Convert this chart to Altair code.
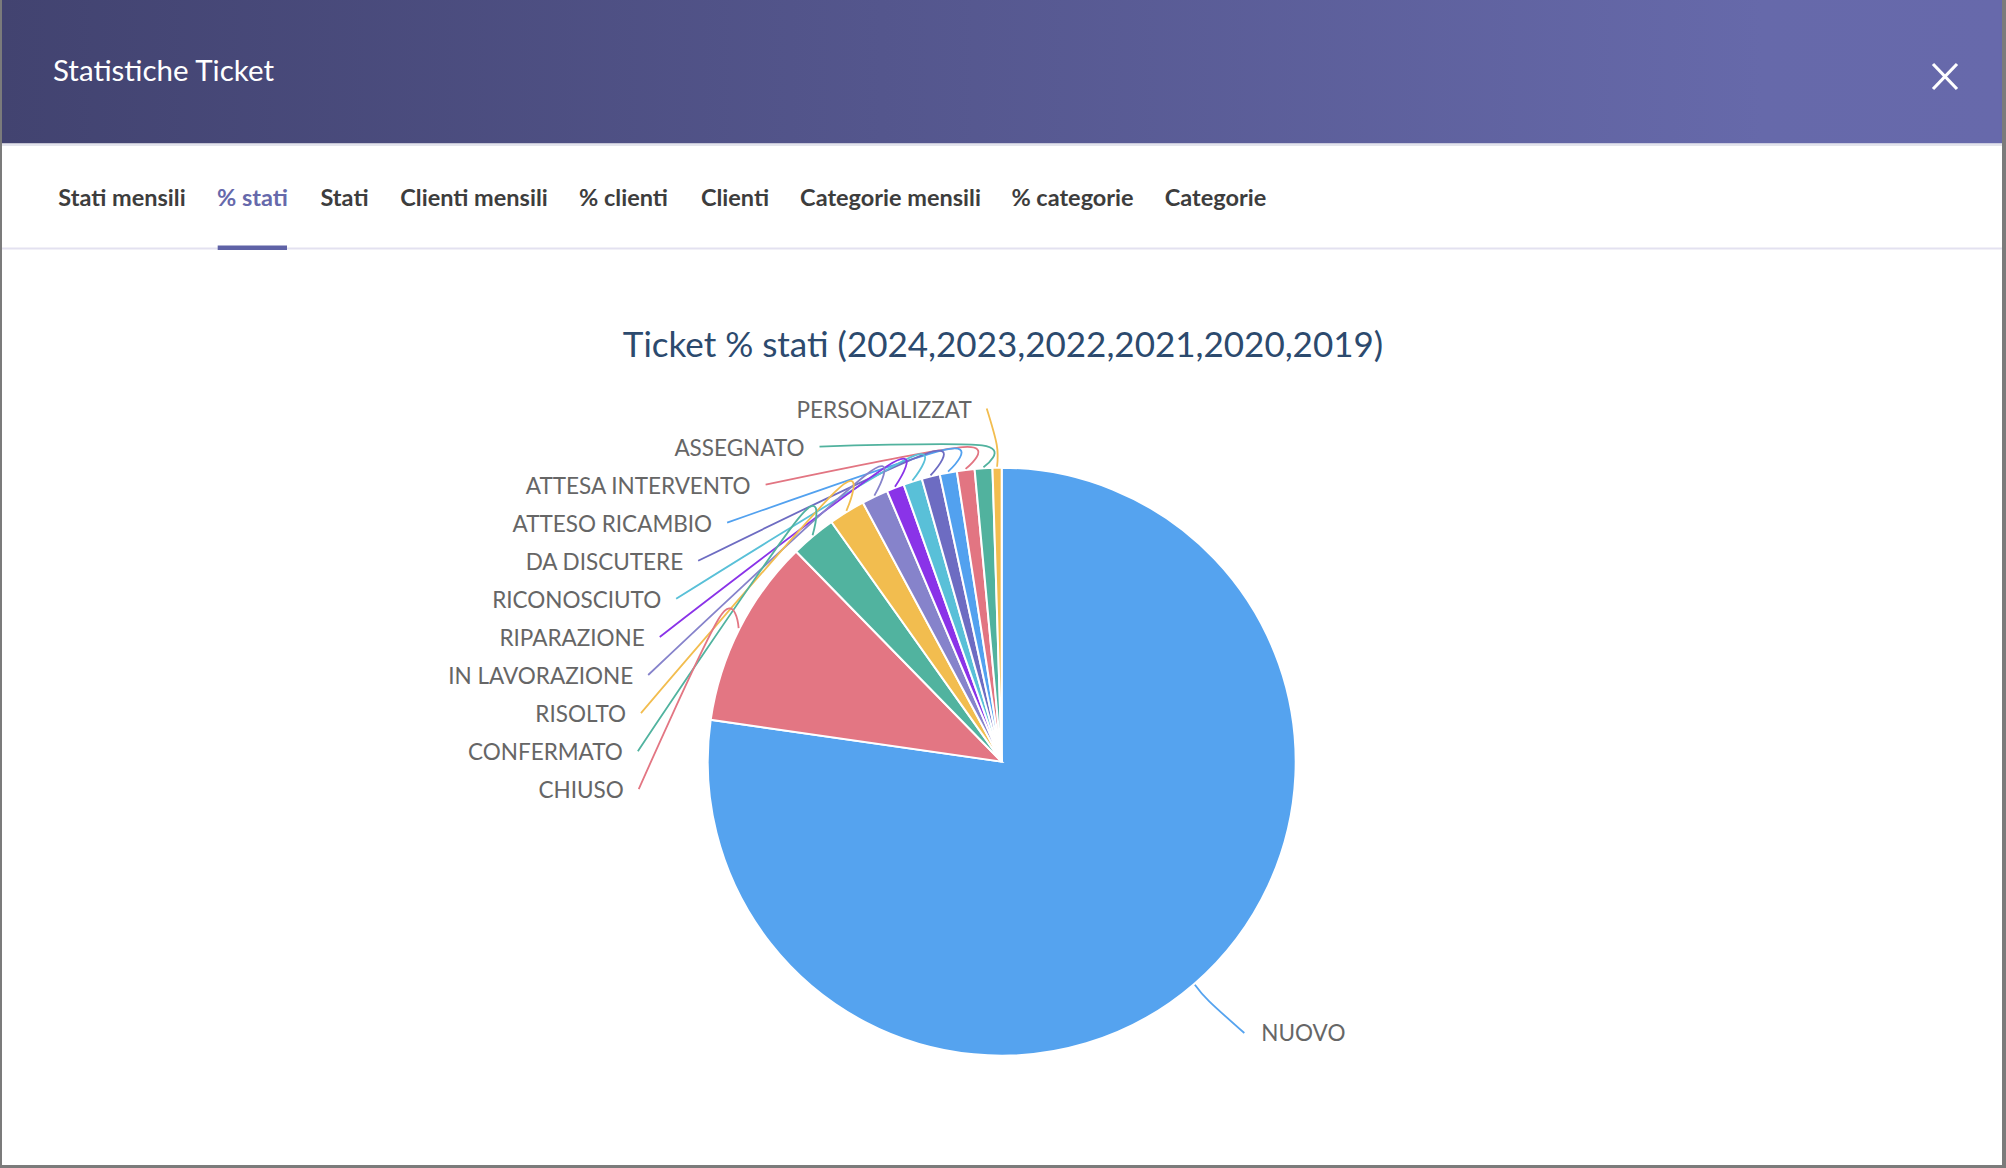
import math
import altair as alt
import pandas as pd

# ---------------- data ----------------
stati = ["NUOVO", "CHIUSO", "CONFERMATO", "RISOLTO", "IN LAVORAZIONE", "RIPARAZIONE",
         "RICONOSCIUTO", "DA DISCUTERE", "ATTESO RICAMBIO", "ATTESA INTERVENTO",
         "ASSEGNATO", "PERSONALIZZAT"]
percentuali = [77.3, 10.4, 2.5, 2.0, 1.45, 0.97, 1.03, 1.0, 0.94, 0.97, 0.97, 0.5]
colori = ["#55a3ef", "#e37683", "#51b39f", "#f2bd4f", "#8683cb", "#8a33e8",
          "#59c0d8", "#6d6cc2", "#52a1ef", "#e27582", "#51b29e", "#f2bd4f"]
schede = ["Stati mensili", "% stati", "Stati", "Clienti mensili", "% clienti",
          "Clienti", "Categorie mensili", "% categorie", "Categorie"]
scheda_attiva = "% stati"
titolo_modale = "Statistiche Ticket"
titolo_grafico = "Ticket % stati (2024,2023,2022,2021,2020,2019)"

# ---------------- layout ----------------
W, H = 2006, 1168
CX, CY, RAD = 1001.7, 761.7, 294
LEN1 = 23          # first leader segment
LABEL_R = 364      # radius of the label ring
STEP = 38.07       # vertical spacing of the stacked labels
TOP_Y = 408.5
GAP = 15
tab_centri = [122, 252.5, 344.5, 474, 623.5, 735, 890.5, 1072.5, 1215.5]

FONT = "Lato"

df = pd.DataFrame({"stato": stati, "valore": percentuali, "ordine": list(range(len(stati)))})

total = sum(percentuali)
mids = []
cum = 0.0
for v in percentuali:
    a0 = cum / total * 2 * math.pi
    cum += v
    a1 = cum / total * 2 * math.pi
    mids.append((a0 + a1) / 2)

def pt(a, r):
    return CX + r * math.sin(a), CY - r * math.cos(a)

left = [i for i, m in enumerate(mids) if m > math.pi]
left.sort(key=lambda i: -mids[i])
line_rows, label_rows = [], []
for k, i in enumerate(left):
    p0 = pt(mids[i], RAD + 1)
    p1 = pt(mids[i], RAD + LEN1)
    y = TOP_Y + k * STEP
    dy = y - CY
    if abs(dy) > 0.95 * LABEL_R:
        x = p1[0] - 10
    else:
        x = CX - math.sqrt(LABEL_R ** 2 - dy ** 2)
    for j, (px, py) in enumerate([p0, p1, (x, y)]):
        line_rows.append({"stato": stati[i], "k": j, "px": px, "py": py})
    label_rows.append({"stato": stati[i], "tx": x - GAP, "ty": y + 2, "lato": "sx"})
for i, m in enumerate(mids):
    if m <= math.pi:
        p0 = pt(m, RAD + 1)
        p1 = pt(m, RAD + LEN1)
        y = CY - (LABEL_R - 5) * math.cos(m)
        x = CX + math.sqrt(max(LABEL_R ** 2 - (y - CY) ** 2, 0))
        for j, (px, py) in enumerate([p0, p1, (x, y)]):
            line_rows.append({"stato": stati[i], "k": j, "px": px, "py": py})
        label_rows.append({"stato": stati[i], "tx": x + GAP + 2, "ty": y + 1, "lato": "dx"})

lines_df = pd.DataFrame(line_rows)
labels_df = pd.DataFrame(label_rows)
tabs_df = pd.DataFrame({"scheda": schede, "cx": tab_centri})
one = pd.DataFrame({"k": [0]})

xs = alt.Scale(domain=[0, W], range=[0, W], nice=False, zero=False)
ys = alt.Scale(domain=[0, H], range=[0, H], nice=False, zero=False)
cscale = alt.Scale(domain=stati, range=colori)

def rect(x1, x2, y1, y2, color):
    return alt.Chart(one).mark_rect(color=color).encode(
        x=alt.value(x1), x2=alt.value(x2), y=alt.value(y1), y2=alt.value(y2))

header = alt.Chart(one).mark_rect(
    color=alt.Gradient(gradient="linear",
                       stops=[alt.GradientStop(color="#424370", offset=0),
                              alt.GradientStop(color="#6669aa", offset=0.88),
                              alt.GradientStop(color="#6769ab", offset=1)],
                       x1=0, x2=1, y1=0, y2=0)
).encode(x=alt.value(2), x2=alt.value(2002), y=alt.value(0), y2=alt.value(143.5))

header_line = rect(2, 2002, 143.5, 146, "#e3e4ec")
border_l = rect(0, 2, 0, H, "#7b7b7b")
border_r = rect(2002, W, 0, H, "#7b7b7b")
border_b = rect(0, W, 1165, H, "#7b7b7b")

header_text = alt.Chart(one).mark_text(
    text=titolo_modale, font=FONT, fontSize=29.5, color="#ffffff", align="left", baseline="middle"
).encode(x=alt.value(53), y=alt.value(72))

close1 = alt.Chart(one).mark_rule(color="#ffffff", strokeWidth=3.2).encode(
    x=alt.value(1933), y=alt.value(64), x2=alt.value(1957), y2=alt.value(89))
close2 = alt.Chart(one).mark_rule(color="#ffffff", strokeWidth=3.2).encode(
    x=alt.value(1957), y=alt.value(64), x2=alt.value(1933), y2=alt.value(89))

tabs = alt.Chart(tabs_df).mark_text(
    font=FONT, fontSize=23.5, fontWeight="bold", baseline="middle", align="center"
).encode(
    x=alt.X("cx:Q", scale=xs, axis=None),
    y=alt.value(199),
    text="scheda:N",
    color=alt.condition(alt.datum.scheda == scheda_attiva, alt.value("#6669ab"), alt.value("#3d3d3d")),
)
tab_sep = rect(2, 2002, 247.5, 249.5, "#e3e1f0")
tab_active = rect(217.7, 287, 245.5, 250, "#5f62a6")

chart_title = alt.Chart(one).mark_text(
    text=titolo_grafico, font=FONT, fontSize=35, color="#2c4a6e", align="center", baseline="middle"
).encode(x=alt.value(1003), y=alt.value(346))

pie = alt.Chart(df).mark_arc(radius=RAD, x=CX, y=CY, stroke="#ffffff", strokeWidth=2).encode(
    theta=alt.Theta("valore:Q", stack=True),
    order=alt.Order("ordine:Q"),
    color=alt.Color("stato:N", scale=cscale, legend=None),
)

leaders = alt.Chart(lines_df).mark_line(interpolate="cardinal", strokeWidth=1.8).encode(
    x=alt.X("px:Q", scale=xs, axis=None),
    y=alt.Y("py:Q", scale=ys, axis=None),
    detail="stato:N",
    order="k:Q",
    color=alt.Color("stato:N", scale=cscale, legend=None),
)

labels_sx = alt.Chart(labels_df).transform_filter(alt.datum.lato == "sx").mark_text(
    font=FONT, fontSize=22.5, color="#666666", align="right", baseline="middle"
).encode(x=alt.X("tx:Q", scale=xs, axis=None), y=alt.Y("ty:Q", scale=ys, axis=None), text="stato:N")
labels_dx = alt.Chart(labels_df).transform_filter(alt.datum.lato == "dx").mark_text(
    font=FONT, fontSize=22.5, color="#666666", align="left", baseline="middle"
).encode(x=alt.X("tx:Q", scale=xs, axis=None), y=alt.Y("ty:Q", scale=ys, axis=None), text="stato:N")

chart = alt.layer(
    border_l, border_r, border_b, header, header_line, header_text, close1, close2,
    tabs, tab_sep, tab_active, chart_title, pie, leaders, labels_sx, labels_dx
).properties(
    width=W, height=H, padding=0, autosize=alt.AutoSizeParams(type="none"), background="#ffffff"
).configure_view(strokeWidth=0)

chart.save("out.html", embed_options={"renderer": "svg", "actions": False})
